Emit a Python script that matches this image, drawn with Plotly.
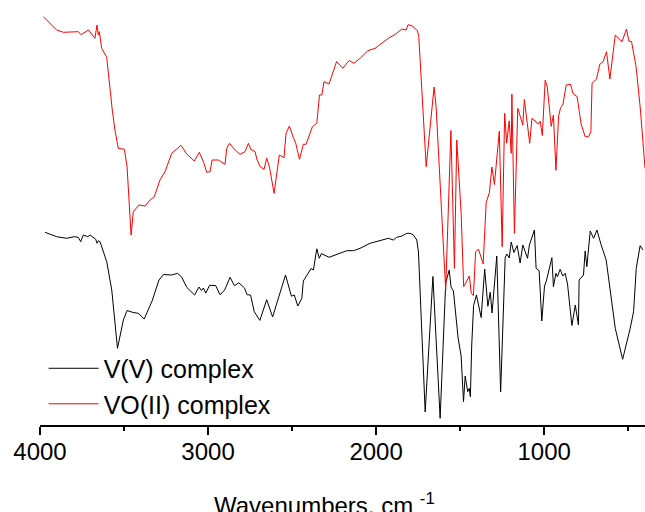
import plotly.graph_objects as go

# Wavenumbers (cm^-1) and relative transmittance (arbitrary units, offset spectra)
red_wn = [3980, 3901, 3861, 3772, 3756, 3712, 3673, 3661, 3653, 3647,
          3633, 3603, 3570, 3554, 3534, 3498, 3482, 3458, 3445, 3411,
          3375, 3345, 3320, 3286, 3256, 3216, 3161, 3127, 3082, 3052,
          3024, 3008, 2988, 2976, 2939, 2899, 2889, 2873, 2839, 2810,
          2780, 2760, 2746, 2720, 2710, 2690, 2667, 2651, 2635, 2607,
          2576, 2548, 2536, 2516, 2492, 2478, 2456, 2433, 2417, 2379,
          2353, 2337, 2323, 2310, 2280, 2235, 2198, 2161, 2131, 2095,
          2049, 2006, 1927, 1883, 1847, 1821, 1810, 1787, 1754, 1746,
          1702, 1655, 1643, 1586, 1555, 1534, 1520, 1494, 1479, 1445,
          1434, 1421, 1408, 1391, 1363, 1345, 1326, 1311, 1296, 1267,
          1250, 1235, 1223, 1208, 1196, 1192, 1177, 1157, 1127, 1118,
          1086, 1073, 1034, 1024, 1011, 994, 982, 958, 945, 930,
          914, 902, 889, 869, 843, 829, 804, 780, 756, 736,
          722, 715, 689, 669, 649, 629, 609, 577, 537, 510,
          496, 480, 453, 427, 400]
red_T = [408.3, 395, 392.7, 393.3, 390.3, 395, 386.7, 400, 390, 393.3,
         376.7, 367.7, 315, 295, 276.7, 275.7, 258.3, 190, 213.3, 220,
         219, 225, 228.3, 245, 253.3, 271.7, 279.7, 271, 264, 272.7,
         261.7, 252.7, 253.3, 265, 265, 260.7, 276.7, 281.7, 275, 270.7,
         273.3, 281.7, 275.7, 273.3, 266, 258.3, 255.7, 266.7, 258.3, 231.7,
         270, 267.3, 291.7, 299, 287.3, 281.7, 265.7, 280.7, 280.7, 298.3,
         301.7, 330, 330, 343.3, 341, 363.5, 356.7, 364.5, 361.7, 366.7,
         374.3, 376.7, 386.7, 391, 396, 395, 400.3, 399.3, 394.3, 388.3,
         258.3, 338, 318.3, 135, 294.5, 156.7, 285, 211.7, 138.3, 149,
         131.7, 129.5, 173, 176, 161, 222.5, 232.3, 258, 240.5, 293.8,
         178.3, 311.7, 282, 304.2, 271.7, 330.8, 191.7, 316.7, 300, 325.4,
         281.7, 306.7, 301, 303.8, 289.5, 344.7, 338.7, 298.7, 310, 254.7,
         309, 317.5, 320, 340, 340.8, 331.7, 328.3, 301, 288.3, 288.3,
         293.3, 341.7, 345.7, 360.7, 363.3, 373.3, 346, 390, 383.3, 396,
         384, 383.3, 358.3, 315, 256.7]

black_wn = [3970, 3901, 3841, 3796, 3772, 3758, 3742, 3728, 3716, 3702,
            3683, 3668, 3661, 3653, 3643, 3603, 3573, 3539, 3504, 3482,
            3446, 3415, 3380, 3333, 3292, 3265, 3216, 3182, 3157, 3127,
            3080, 3054, 3039, 3028, 3013, 2991, 2955, 2929, 2902, 2869,
            2843, 2817, 2783, 2768, 2747, 2725, 2692, 2651, 2616, 2539,
            2504, 2487, 2466, 2442, 2433, 2403, 2387, 2373, 2353, 2338,
            2326, 2280, 2224, 2174, 2135, 2095, 2036, 1976, 1927, 1897,
            1877, 1847, 1817, 1798, 1778, 1758, 1748, 1708, 1662, 1619,
            1586, 1565, 1554, 1540, 1512, 1494, 1480, 1470, 1455, 1446,
            1439, 1431, 1420, 1403, 1375, 1354, 1335, 1321, 1310, 1282,
            1259, 1232, 1222, 1208, 1196, 1180, 1161, 1143, 1127, 1099,
            1088, 1058, 1048, 1030, 1014, 998, 988, 954, 945, 930,
            921, 905, 889, 875, 861, 835, 815, 796, 792, 766,
            756, 746, 726, 706, 686, 662, 631, 577, 533, 488,
            468, 452, 429, 412]
black_T = [192.7, 188.3, 186.7, 188.3, 187.7, 183.3, 190, 189, 188.3, 190,
           187.7, 185.7, 181.7, 184.3, 183.3, 163.3, 135, 76.7, 105, 114.5,
           112.5, 111.7, 106, 124, 145, 150.5, 150, 151.7, 148, 137.7,
           130, 138, 134.5, 137, 132, 139.7, 139.5, 130.3, 134.7, 147.7,
           139.3, 142.2, 137, 130.3, 130, 113.3, 104.6, 125.3, 108, 150,
           128.8, 130, 119, 126.7, 144, 152.3, 156.5, 155, 176.2, 166.7,
           171.4, 167.7, 171, 174.3, 174.3, 176.7, 181.7, 184.3, 186.7, 185,
           187.7, 189, 191.7, 191.7, 190, 185, 173, 13, 148.5, 6.7,
           142, 155, 138, 134, 87, 69, 23.3, 49, 33.3, 36.7,
           28.3, 80, 119.5, 130, 107.5, 156, 118.7, 132.8, 112, 169,
           33, 167.5, 171, 167, 183, 172.5, 179.5, 162, 180, 166.7,
           180, 195, 156.7, 154.3, 104, 139, 143.3, 167.3, 138.3, 151.7,
           148.3, 155.7, 149, 151.7, 141, 99.5, 120, 100, 145, 150,
           174, 158.3, 194, 186.7, 195, 180.7, 165, 96.7, 65.7, 96.7,
           113.3, 156.7, 179.3, 175]

series_names = ["V(V) complex", "VO(II) complex"]
x_ticks = [4000, 3000, 2000, 1000]
x_minor_ticks = [3500, 2500, 1500, 500]
x_title = "Wavenumbers, cm <sup>-1</sup>"

FONT = "Liberation Sans, Arial, sans-serif"

fig = go.Figure()
fig.add_trace(go.Scatter(x=black_wn, y=black_T, mode="lines", name=series_names[0],
                         line=dict(color="black", width=1)))
fig.add_trace(go.Scatter(x=red_wn, y=red_T, mode="lines", name=series_names[1],
                         line=dict(color="#ff0000", width=1)))

fig.update_layout(
    width=645, height=512,
    margin=dict(l=40, r=0, t=0, b=87, autoexpand=False),
    paper_bgcolor="white", plot_bgcolor="white",
    font=dict(family=FONT, color="black"),
    showlegend=True,
    legend=dict(x=0.006, y=0.187, xanchor="left", yanchor="top",
                font=dict(size=25, family=FONT), bgcolor="rgba(0,0,0,0)",
                tracegroupgap=0, itemwidth=50),
    xaxis=dict(range=[4000, 400], tickvals=x_ticks, ticktext=[str(v) for v in x_ticks],
               automargin=False,
               showline=True, linecolor="black", linewidth=1.5,
               ticks="outside", ticklen=8, tickwidth=1.5, tickcolor="black",
               ticklabelstandoff=-4,
               tickfont=dict(size=24, family=FONT),
               minor=dict(ticks="outside", ticklen=4, tickwidth=1.5, tickcolor="black",
                          tickvals=x_minor_ticks),
               showgrid=False, zeroline=False),
    yaxis=dict(range=[0, 425], visible=False, automargin=False,
               showgrid=False, zeroline=False),
    annotations=[dict(text=x_title, x=0.471, y=-0.185, xref="paper", yref="paper",
                      xanchor="center", yanchor="middle", showarrow=False,
                      font=dict(size=24, family=FONT))],
)

fig.write_html(
    "out.html",
    config={"displayModeBar": False},
    post_script="document.body.style.margin='0';document.body.style.overflow='hidden';",
)
